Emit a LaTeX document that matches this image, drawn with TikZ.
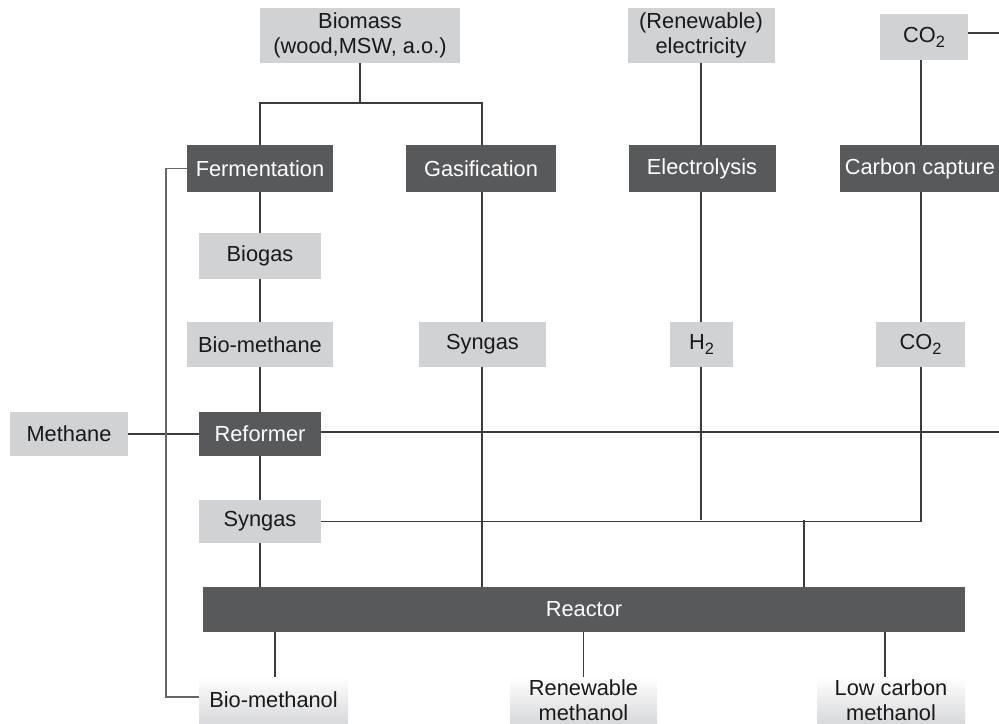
\documentclass[tikz,border=0pt]{standalone}
\usepackage{fontspec}
\setmainfont{Liberation Sans}
\definecolor{boxdark}{HTML}{58595B}
\definecolor{boxlight}{HTML}{D1D2D4}
\definecolor{wire}{HTML}{3C3C3C}
\newcommand\lowsub[1]{\raisebox{-0.45ex}{\fontsize{8.2}{8.2}\selectfont #1}}
\tikzset{
  base/.style={inner sep=0pt, outer sep=0pt, align=center,
    font=\fontsize{10.9}{12.5}\selectfont},
  procbox/.style={base, fill=boxdark, text=white},
  feedbox/.style={base, fill=boxlight, text=black!90},
  productbox/.style={base, top color=white, bottom color=boxlight!85, text=black!90},
  link/.style={draw=wire, line width=0.62pt},
  sidelink/.style={draw=black!60, line width=0.8pt}
}
\begin{document}
\begin{tikzpicture}[x=0.5pt, y=-0.5pt]
\useasboundingbox (0,0) rectangle (999,723);

% feedstocks
\node[feedbox, minimum width=100pt, minimum height=27.5pt] (biomass) at (360,35.5) {Biomass\\(wood,MSW, a.o.)};
\node[feedbox, minimum width=73.5pt, minimum height=27.5pt] (elec) at (701,35.5) {(Renewable)\\electricity};
\node[feedbox, minimum width=44pt, minimum height=23pt] (co2top) at (924,37) {CO\lowsub{2}};
\node[feedbox, minimum width=59pt, minimum height=22pt] (methane) at (69,434) {Methane};

% conversion steps
\node[procbox, minimum width=73pt, minimum height=23.5pt] (ferm) at (260,168.5) {Fermentation};
\node[procbox, minimum width=75pt, minimum height=23.5pt] (gasif) at (481,168.5) {Gasification};
\node[procbox, minimum width=73.5pt, minimum height=23.5pt] (electro) at (702,168.5) {Electrolysis};
\node[procbox, minimum width=80pt, minimum height=23.5pt] (capture) at (920,168.5) {Carbon capture};
\node[procbox, minimum width=61pt, minimum height=22pt] (reformer) at (260,434) {Reformer};
\node[procbox, minimum width=381pt, minimum height=22.5pt] (reactor) at (584,609.5) {Reactor};

% intermediates
\node[feedbox, minimum width=61pt, minimum height=23pt] (biogas) at (260,256) {Biogas};
\node[feedbox, minimum width=73pt, minimum height=22.5pt] (biometh) at (260,344.5) {Bio-methane};
\node[feedbox, minimum width=63.5pt, minimum height=22.5pt] (syngasB) at (482.5,344.5) {Syngas};
\node[feedbox, minimum width=31.5pt, minimum height=22.5pt] (htwo) at (701.5,344.5) {H\lowsub{2}};
\node[feedbox, minimum width=44.5pt, minimum height=22.5pt] (co2mid) at (920.5,344.5) {CO\lowsub{2}};
\node[feedbox, minimum width=61pt, minimum height=21.5pt] (syngasA) at (260,521.5) {Syngas};

% products
\node[productbox, minimum width=74.5pt, minimum height=23pt] (biomeoh) at (273.5,700) {Bio-methanol};
\node[productbox, minimum width=73.5pt, minimum height=23pt] (renmeoh) at (583.5,700) {Renewable\\methanol};
\node[productbox, minimum width=74pt, minimum height=23pt] (lowmeoh) at (891,700) {Low carbon\\methanol};

% junction points and trunk positions
\coordinate (split) at (360,103);
\coordinate (gasX) at (482,0);
\coordinate (elecX) at (701,0);
\coordinate (capX) at (921,0);
\coordinate (eastA) at (999,33);
\coordinate (eastB) at (999,432);
\coordinate (mixH) at (701,520);
\coordinate (mixC) at (921,520);
\coordinate (mixR) at (804,520);
\coordinate (sideTop) at (166,168.5);
\coordinate (sideBot) at (166,697);
\coordinate (outA) at (275,0);
\coordinate (outC) at (885,0);

% biomass split
\draw[link] (biomass.south) -- (split);
\draw[link] (ferm.north) |- (split) -| (gasX |- gasif.north);

% vertical feeds
\draw[link] (elecX |- elec.south) -- (elecX |- electro.north);
\draw[link] (capX |- co2top.south) -- (capX |- capture.north);
\draw[link] (co2top.east |- eastA) -- (eastA);

% fermentation route
\draw[link] (ferm.south) -- (biogas.north);
\draw[link] (biogas.south) -- (biometh.north);
\draw[link] (biometh.south) -- (reformer.north);
\draw[link] (reformer.south) -- (syngasA.north);
\draw[link] (syngasA.south) -- (syngasA.south |- reactor.north);

% gasification route
\draw[link] (gasX |- gasif.south) -- (gasX |- syngasB.north);
\draw[link] (gasX |- syngasB.south) -- (gasX |- reactor.north);

% hydrogen and carbon dioxide
\draw[link] (elecX |- electro.south) -- (elecX |- htwo.north);
\draw[link] (elecX |- htwo.south) -- (mixH);
\draw[link] (capX |- capture.south) -- (capX |- co2mid.north);
\draw[link] (capX |- co2mid.south) -- (mixC);
\draw[link] (syngasA.east) -- (syngasA.east -| mixC) -- (mixC);
\draw[link] (mixR) -- (mixR |- reactor.north);

% methane reforming
\draw[link] (methane.east) -- (reformer.west);
\draw[link] (reformer.east |- eastB) -- (eastB);

% direct bio-methanol path
\draw[sidelink] (ferm.west) -- (sideTop) -- (sideBot) -- (biomeoh.west |- sideBot);

% reactor outputs
\draw[link] (outA |- reactor.south) -- (outA |- biomeoh.north);
\draw[link] (renmeoh.north |- reactor.south) -- (renmeoh.north);
\draw[link] (outC |- reactor.south) -- (outC |- lowmeoh.north);
\end{tikzpicture}
\end{document}
